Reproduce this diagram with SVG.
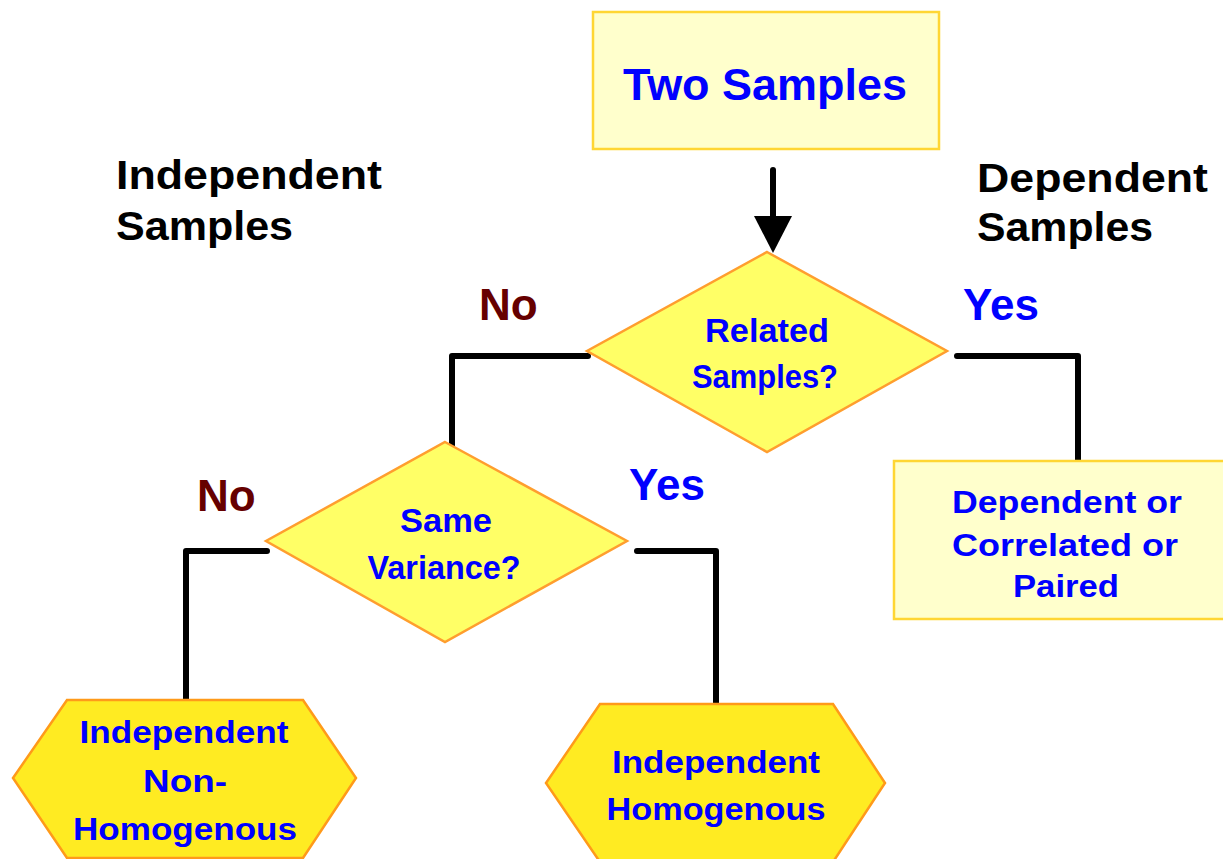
<svg xmlns="http://www.w3.org/2000/svg" width="1223" height="859" viewBox="0 0 1223 859">
<style>
text{font-family:"Liberation Sans",Arial,sans-serif;font-weight:bold;}
.blue{fill:#0000FF;text-anchor:middle;}
.lbl{fill:#000000;}
.no{fill:#660000;font-size:44px;}
.yes{fill:#0000FF;font-size:44px;}
.box{fill:#FFFFCC;stroke:#FFD633;stroke-width:2.5;}
.dia{fill:#FFFF66;stroke:#FF9E2E;stroke-width:2.5;}
.hex{fill:#FFEB22;stroke:#FF9A1A;stroke-width:2.5;}
.con{fill:none;stroke:#000000;stroke-width:6;stroke-linecap:round;stroke-linejoin:round;}
</style>
<rect width="1223" height="859" fill="#FFFFFF"/>
<g id="connectors">
<path class="con" d="M773,170 V222"/>
<polygon points="754,216 792,216 773,253" fill="#000000"/>
<path class="con" d="M588,356 H452 V445"/>
<path class="con" d="M957,356 H1078 V461"/>
<path class="con" d="M267,551 H186 V705"/>
<path class="con" d="M637,551 H716 V705"/>
</g>
<g id="two-samples">
<rect class="box" x="593" y="12" width="346" height="137"/>
<text class="blue" x="765" y="100" font-size="45" textLength="284" lengthAdjust="spacingAndGlyphs">Two Samples</text>
</g>
<g id="related-samples">
<polygon class="dia" points="767,252 947,351 767,452 587,351"/>
<text class="blue" x="767" y="342" font-size="33" textLength="124" lengthAdjust="spacingAndGlyphs">Related</text>
<text class="blue" x="765" y="388" font-size="33" textLength="146" lengthAdjust="spacingAndGlyphs">Samples?</text>
</g>
<g id="same-variance">
<polygon class="dia" points="445,442 627,541 445,642 266,541"/>
<text class="blue" x="446" y="532" font-size="33" textLength="92" lengthAdjust="spacingAndGlyphs">Same</text>
<text class="blue" x="444" y="579" font-size="33" textLength="153" lengthAdjust="spacingAndGlyphs">Variance?</text>
</g>
<g id="dependent-box">
<rect class="box" x="894" y="461" width="340" height="158"/>
<text class="blue" x="1067" y="513" font-size="31" textLength="230" lengthAdjust="spacingAndGlyphs">Dependent or</text>
<text class="blue" x="1065" y="556" font-size="31" textLength="226" lengthAdjust="spacingAndGlyphs">Correlated or</text>
<text class="blue" x="1066" y="597" font-size="31" textLength="106" lengthAdjust="spacingAndGlyphs">Paired</text>
</g>
<g id="independent-non-homogenous">
<polygon class="hex" points="67,700 303,700 356,778 303,858 67,858 13,778"/>
<text class="blue" x="184" y="743" font-size="31" textLength="209" lengthAdjust="spacingAndGlyphs">Independent</text>
<text class="blue" x="185" y="792" font-size="31" textLength="84" lengthAdjust="spacingAndGlyphs">Non-</text>
<text class="blue" x="185" y="840" font-size="31" textLength="224" lengthAdjust="spacingAndGlyphs">Homogenous</text>
</g>
<g id="independent-homogenous">
<polygon class="hex" points="600,704 833,704 885,783 833,862 600,862 546,783"/>
<text class="blue" x="716" y="773" font-size="31" textLength="208" lengthAdjust="spacingAndGlyphs">Independent</text>
<text class="blue" x="716" y="820" font-size="31" textLength="219" lengthAdjust="spacingAndGlyphs">Homogenous</text>
</g>
<g id="labels">
<text class="lbl" x="116" y="189" font-size="40" textLength="266" lengthAdjust="spacingAndGlyphs">Independent</text>
<text class="lbl" x="116" y="240" font-size="40" textLength="177" lengthAdjust="spacingAndGlyphs">Samples</text>
<text class="lbl" x="977" y="192" font-size="40" textLength="231" lengthAdjust="spacingAndGlyphs">Dependent</text>
<text class="lbl" x="977" y="241" font-size="40" textLength="176" lengthAdjust="spacingAndGlyphs">Samples</text>
<text class="no" x="479" y="320">No</text>
<text class="yes" x="963" y="320">Yes</text>
<text class="no" x="197" y="511">No</text>
<text class="yes" x="629" y="500">Yes</text>
</g>
</svg>
